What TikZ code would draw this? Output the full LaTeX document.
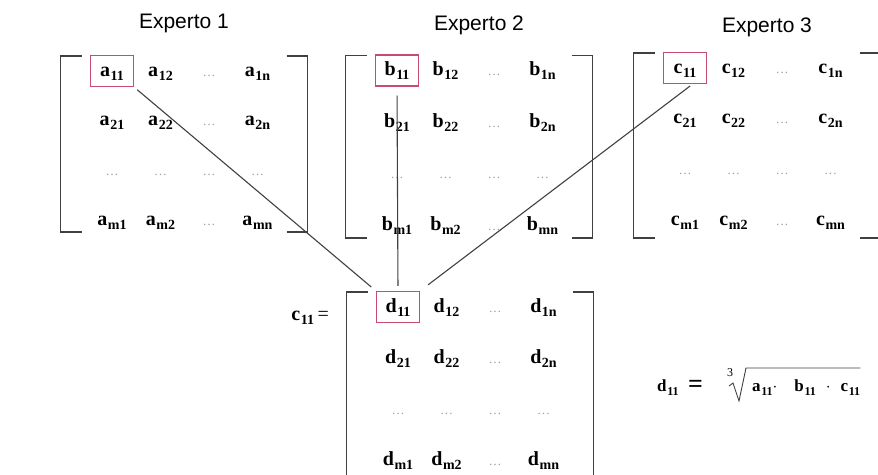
\documentclass[tikz,border=0pt]{standalone}
\usepackage{fontspec}
\setmainfont{Liberation Serif}
\newfontfamily\titulofont{Liberation Sans}
\usetikzlibrary{positioning}
\definecolor{rojocaja}{RGB}{198, 76, 112}
\definecolor{trazo}{RGB}{64, 64, 64}
% letra con subindice grande, bajado a mano
\newcommand{\elem}[3][14]{#2\kern0.6pt\raisebox{-4pt}{\fontsize{#1}{#1}\selectfont #3}}

\begin{document}
\begin{tikzpicture}[x=1pt, y=-1pt,
    titulo/.style={font=\titulofont\fontsize{21}{21}\selectfont, anchor=base},
    celda/.style={font=\fontsize{20}{20}\selectfont\bfseries, anchor=base, inner sep=0pt},
    puntos/.style={font=\fontsize{13}{13}\selectfont, text=gray!75, anchor=base, inner sep=0pt},
    corchete/.style={draw=trazo, line width=1.8pt},
    marca/.style={draw=rojocaja, line width=1.3pt, minimum width=43pt, minimum height=31pt, inner sep=0pt},
    enlace/.style={draw=trazo, line width=1.1pt},
    formula/.style={font=\fontsize{17}{17}\selectfont\bfseries, anchor=base west, inner sep=0pt}
  ]
  \useasboundingbox (0,0) rectangle (878,474);

  \node[titulo] (tit1) at (184,28) {Experto 1};
  \node[titulo] (tit2) at (479,30) {Experto 2};
  \node[titulo] (tit3) at (767,32) {Experto 3};

  % las cuatro matrices: letra / columna 1 / fila 1 / paso / pie del corchete
  \foreach \m/\x/\y/\p/\b in {a/112/76/49.7/232, b/397/75.5/51.7/238, c/685/73/50.7/238, d/398/312/51/495}{
    \foreach \f/\i in {1/0, 2/1, m/3}{
      \foreach \k/\j in {1/0, 2/1, n/3}
        \node[celda] (\m\f\k) at (\x+48.5*\j, \y+\p*\i) {\elem{\m}{\f\k}};
      \node[puntos] (\m\f-) at (\x+97, \y+\p*\i) {\ldots};
    }
    \foreach \j in {0,...,3}
      \node[puntos] (\m-\j) at (\x+48.5*\j, \y+2*\p) {\ldots};
    \draw[corchete] (\x-30, \y-20) -| (\x-51.5, \b) -- ++(21,0);
    \draw[corchete] (\x+174.5, \y-20) -| (\x+195.5, \b) -- ++(-21,0);
    \node[marca] (\m-caja) at (\x, \y-5) {};
  }

  \draw[enlace, shorten <=4pt, shorten >=6pt] (a-caja.south east) -- (d-caja.north west);
  \draw[enlace, shorten <=9pt, shorten >=5pt] (b-caja.south) -- (d-caja.north);
  \draw[enlace, shorten <=3pt, shorten >=10pt] (c-caja.-65) -- (d-caja.north east);

  \node[celda, anchor=base east] (igual) at (329,320) {\elem{c}{11}\,{\mdseries=}};

  % media geometrica con raiz cubica
  \node[formula] (dfinal) at (657,391) {\elem[12]{d}{11}};
  \node[formula, font=\fontsize{26}{26}\selectfont\bfseries] (igual2) at (688,392) {=};
  \node[formula] (radicando) at (752,391)
    {\elem[12]{a}{11}$\cdot$\hspace{17pt}\elem[12]{b}{11}\hspace{10pt}$\cdot$\hspace{10pt}\elem[12]{c}{11}\hspace{3pt}};
  \node[formula, font=\fontsize{12}{12}\selectfont] (indice) at (727,376) {3};
  \draw[trazo, line width=0.9pt] (729,386) -- (733,383) -- (739,401) -- (746,368) -| (radicando.north east |- 0,368);
\end{tikzpicture}
\end{document}
